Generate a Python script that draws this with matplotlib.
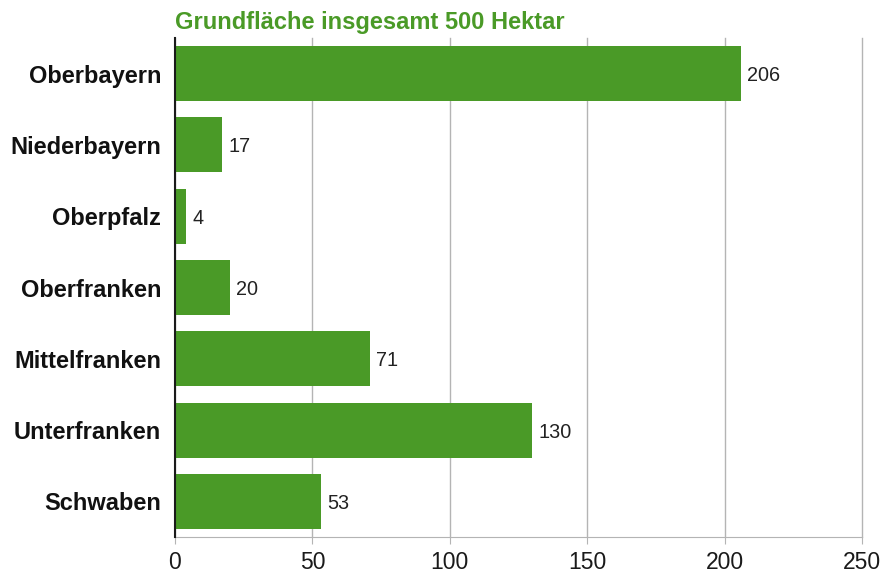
import matplotlib.pyplot as plt

regions = ['Oberbayern', 'Niederbayern', 'Oberpfalz', 'Oberfranken',
           'Mittelfranken', 'Unterfranken', 'Schwaben']
hectares = [206, 17, 4, 20, 71, 130, 53]
xticks = [0, 50, 100, 150, 200, 250]
title = 'Grundfläche insgesamt 500 Hektar'

green = '#4a9a27'
grid_gray = '#b4b4b4'
plt.rcParams['font.family'] = ['Liberation Sans', 'DejaVu Sans']
narrow = ['Liberation Sans Narrow', 'Liberation Sans', 'DejaVu Sans']

fig = plt.figure(figsize=(8.85, 5.79), dpi=100)
ax = fig.add_axes([0.1977, 0.0725, 0.7763, 0.8619])

ypos = list(range(len(regions)))
ax.barh(ypos, hectares, height=0.77, color=green, zorder=3)
for y, v in zip(ypos, hectares):
    ax.text(v + 2.3, y, str(v), va='center_baseline', ha='left', fontsize=14.3,
            color='#222222')

ax.set_xlim(0, 250)
ax.set_ylim(len(regions) - 0.5, -0.5)
ax.set_yticks(ypos)
ax.set_yticklabels(regions, fontsize=17, fontweight='bold', color='#111111')
ax.set_xticks(xticks)
ax.set_xticklabels([str(t) for t in xticks], fontsize=16.5, color='#1a1a1a', family=narrow)

ax.grid(axis='x', color=grid_gray, lw=1, zorder=0)
for gl in ax.get_xgridlines():
    gl.set_clip_on(False)
ax.tick_params(axis='y', length=0, pad=10)
ax.tick_params(axis='x', length=5, color=grid_gray, pad=5)
for s in ['top', 'right']:
    ax.spines[s].set_visible(False)
ax.spines['bottom'].set_color(grid_gray)
ax.spines['left'].set_color('#1a1a1a')
ax.spines['left'].set_linewidth(1.5)
ax.spines['left'].set_zorder(4)

fig.text(0.1977, 0.962, title, fontsize=17, fontweight='bold', color=green,
         ha='left', va='center')

fig.savefig('out.png', dpi=100)
